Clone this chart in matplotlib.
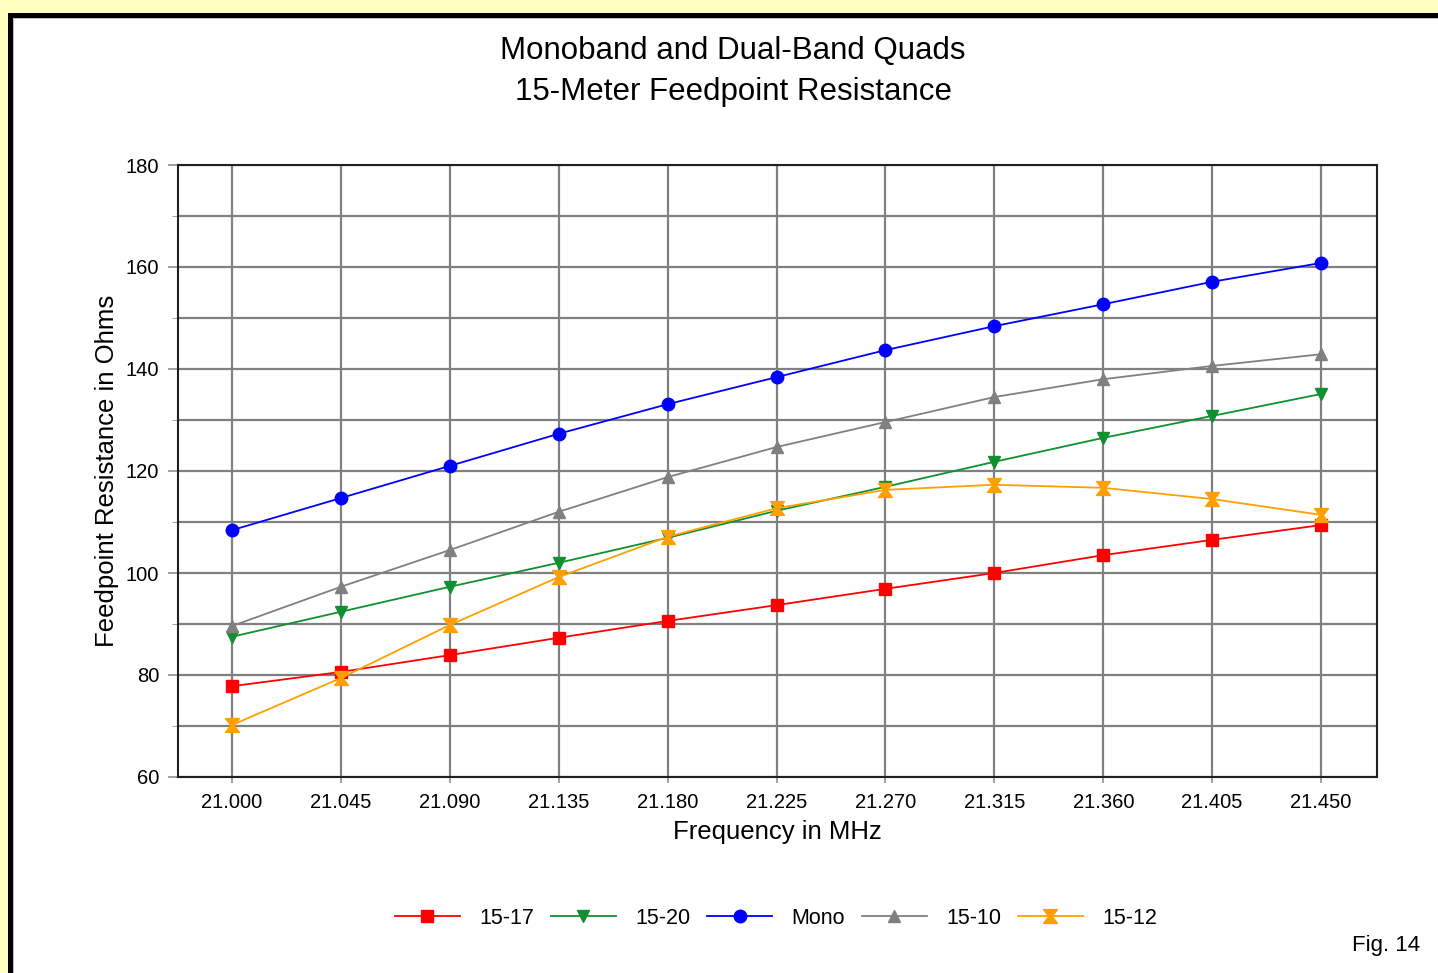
import matplotlib.pyplot as plt
import numpy as np
from matplotlib.patches import Rectangle
from matplotlib.path import Path

plt.rcParams["font.family"] = ["Liberation Sans", "DejaVu Sans"]

freqs = [21.000, 21.045, 21.090, 21.135, 21.180, 21.225, 21.270, 21.315, 21.360, 21.405, 21.450]

r_15_17 = [77.8, 80.6, 83.9, 87.3, 90.6, 93.7, 96.9, 100.0, 103.5, 106.5, 109.4]
r_15_20 = [87.5, 92.4, 97.3, 102.0, 106.9, 112.2, 116.9, 121.8, 126.5, 130.8, 135.1]
r_mono = [108.4, 114.7, 121.0, 127.3, 133.1, 138.4, 143.7, 148.4, 152.7, 157.1, 160.8]
r_15_10 = [89.6, 97.3, 104.5, 112.0, 118.8, 124.7, 129.6, 134.5, 138.0, 140.6, 142.9]
r_15_12 = [70.2, 79.4, 89.8, 99.2, 107.1, 112.7, 116.3, 117.3, 116.7, 114.5, 111.4]

labels = ["15-17", "15-20", "Mono", "15-10", "15-12"]

# hourglass marker for the 15-12 series
hourglass = Path([(-1, 1), (1, 1), (0.25, 0), (1, -1), (-1, -1), (-0.25, 0), (-1, 1)],
                 [Path.MOVETO] + [Path.LINETO] * 5 + [Path.CLOSEPOLY])

series = [
    (r_15_17, "#ff0000", "s", 9),
    (r_15_20, "#109030", "v", 9),
    (r_mono, "#0000ff", "o", 9),
    (r_15_10, "#808080", "^", 9),
    (r_15_12, "#ffa000", hourglass, 10),
]

W, H = 1438, 973
fig = plt.figure(figsize=(W / 100, H / 100), dpi=100, facecolor="#ffffc0")

# page frame: yellow margin, black border, white panel
fig.patches.append(Rectangle((8 / W, 0), 1, 1 - 13 / H, transform=fig.transFigure,
                             facecolor="black", edgecolor="none", zorder=-3))
fig.patches.append(Rectangle((13 / W, 0), 1, 1 - 18 / H, transform=fig.transFigure,
                             facecolor="#c0c0c0", edgecolor="none", zorder=-2))
fig.patches.append(Rectangle((14 / W, 0), 1, 1 - 19 / H, transform=fig.transFigure,
                             facecolor="white", edgecolor="none", zorder=-1))

left, right, top, bottom = 178, 1377, 165, 777
ax = fig.add_axes([left / W, 1 - bottom / H, (right - left) / W, (bottom - top) / H])
ax.set_facecolor("white")

for (vals, color, marker, ms), lab in zip(series, labels):
    ax.plot(freqs, vals, color=color, lw=1.3, marker=marker, markersize=ms,
            markerfacecolor=color, markeredgecolor=color, label=lab, zorder=3)

ax.set_xlim(21.000 - 0.0223, 21.450 + 0.0231)
ax.set_ylim(60, 180)
ax.set_xticks(freqs)
ax.set_xticklabels([f"{f:.3f}" for f in freqs])
ax.set_yticks(np.arange(60, 181, 20))
ax.set_yticks(np.arange(70, 180, 20), minor=True)
ax.grid(True, which="both", color="#808080", lw=1.6)
ax.set_axisbelow(True)
ax.tick_params(axis="y", which="major", labelsize=14.5, length=7.5, width=1.2,
               color="#909090", pad=6)
ax.tick_params(axis="y", which="minor", length=4, color="#909090")
ax.tick_params(axis="x", labelsize=14.5, length=4.5, width=1.2, color="#909090", pad=7)
for s in ax.spines.values():
    s.set_color("#202020")
    s.set_linewidth(1.5)

ax.set_xlabel("Frequency in MHz", fontsize=18.5, labelpad=6)
ax.set_ylabel("Feedpoint Resistance in Ohms", fontsize=18.5, labelpad=5)

fig.text(733 / W, 1 - 51 / H, "Monoband and Dual-Band Quads",
         ha="center", va="center", fontsize=22.5)
fig.text(733 / W, 1 - 92 / H, "15-Meter Feedpoint Resistance",
         ha="center", va="center", fontsize=22.5)

fig.legend(loc="center", bbox_to_anchor=(776 / W, 1 - 918 / H), ncol=5, frameon=False,
           fontsize=15.5, handlelength=3.0, columnspacing=0.8, handletextpad=0.9)

fig.text(1386 / W, 1 - 946 / H, "Fig. 14", ha="center", va="center", fontsize=16)

fig.savefig("out.png", dpi=100, facecolor=fig.get_facecolor())
